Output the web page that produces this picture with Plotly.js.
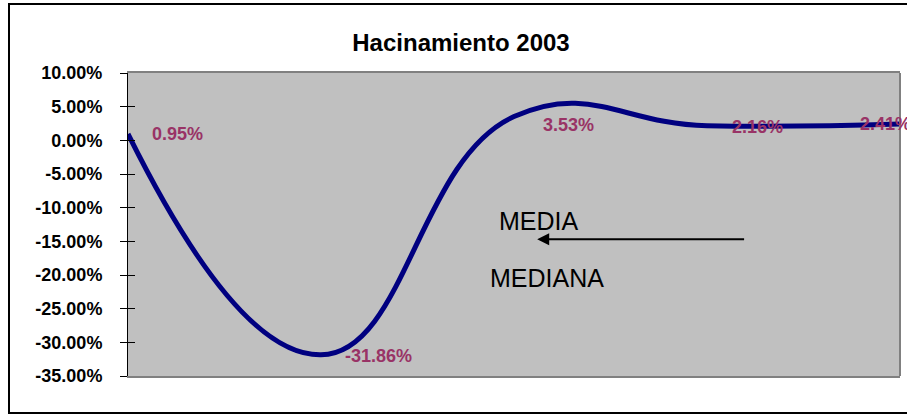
<!DOCTYPE html>
<html>
<head>
<meta charset="utf-8">
<script src="https://cdn.plot.ly/plotly-3.0.1.min.js"></script>
<style>
  html, body { margin: 0; padding: 0; background: #ffffff; overflow: hidden; }
  #wrap { position: relative; width: 907px; height: 414px; }
  #chart { position: absolute; left: 0; top: 0; width: 907px; height: 414px; }
  #frame { position: absolute; left: 8px; top: 3px; width: 920px; height: 407px;
           border: 2px solid #000; pointer-events: none; }
</style>
</head>
<body>
<div id="wrap">
  <div id="chart"></div>
  <div id="frame"></div>
</div>
<script>
// ---- data ----
const categories = [0, 1, 2, 3, 4];
const values = [0.95, -31.86, 3.53, 2.16, 2.41];          // percent
const tickVals = [10, 5, 0, -5, -10, -15, -20, -25, -30, -35];
const tickLabels = ["10.00%", "5.00%", "0.00%", "-5.00%", "-10.00%", "-15.00%",
                    "-20.00%", "-25.00%", "-30.00%", "-35.00%"];
const chartTitle = "Hacinamiento 2003";
const noteTexts = ["MEDIA", "MEDIANA"];
const noteX = [2.13, 2.17];
const noteY = [-12.0, -20.5];
const arrowFrom = [3.2, -14.7];
const arrowTo = [2.12, -14.7];

// ---- style ----
const FONT = "Arial, 'Liberation Sans', sans-serif";
const labelXShift = [22, 22, 27, 23, -42];
const labelYShift = [0, -1, -8, -1, 0];

const annotations = values.map((v, i) => ({
  x: categories[i], y: v, xref: 'x', yref: 'y',
  text: v.toFixed(2) + '%',
  showarrow: false, xanchor: 'left', yanchor: 'middle',
  xshift: labelXShift[i], yshift: labelYShift[i],
  font: { family: FONT, size: 18, color: '#993366', weight: 'bold' }
}));
noteTexts.forEach((t, i) => annotations.push({
  x: noteX[i], y: noteY[i], xref: 'x', yref: 'y', text: t, showarrow: false,
  xanchor: 'center', yanchor: 'middle',
  font: { family: FONT, size: 25, color: '#000000' }
}));
annotations.push({
  x: arrowTo[0], y: arrowTo[1], ax: arrowFrom[0], ay: arrowFrom[1],
  xref: 'x', yref: 'y', axref: 'x', ayref: 'y', text: '',
  showarrow: true, arrowhead: 2, arrowsize: 1.2, arrowwidth: 2, arrowcolor: '#000000'
});

const trace = {
  x: categories, y: values, type: 'scatter', mode: 'lines',
  line: { color: '#000080', width: 5, shape: 'spline', smoothing: 1.3 },
  hoverinfo: 'skip', cliponaxis: true
};

const layout = {
  width: 907, height: 414,
  margin: { l: 128, r: 7, t: 73, b: 38, pad: 0 },
  paper_bgcolor: '#ffffff', plot_bgcolor: '#C0C0C0',
  showlegend: false,
  title: { text: chartTitle, x: 461 / 907, xref: 'container', xanchor: 'center',
           y: 1 - 43 / 414, yref: 'container', yanchor: 'middle',
           font: { family: FONT, size: 24, color: '#000', weight: 'bold' } },
  xaxis: { range: [0, 4], showgrid: false, zeroline: false, showticklabels: false,
           ticks: '', showline: true, linecolor: '#808080', linewidth: 2, mirror: true,
           fixedrange: true },
  yaxis: { range: [-35, 10], tickvals: tickVals, ticktext: tickLabels,
           showgrid: false, zeroline: false, ticks: 'outside', ticklen: 7,
           tickcolor: '#000', tickwidth: 1, showline: true, linecolor: '#000', linewidth: 1,
           ticklabelstandoff: 14,
           tickfont: { family: FONT, size: 18, color: '#000', weight: 'bold' },
           fixedrange: true },
  yaxis2: { range: [-35, 10], overlaying: 'y', side: 'left', tickvals: tickVals,
            showticklabels: false, ticks: 'inside', ticklen: 7, tickcolor: '#000',
            showgrid: false, zeroline: false, showline: false, fixedrange: true },
  shapes: [{ type: 'line', xref: 'paper', yref: 'paper', x0: 1, x1: 1, y0: 0, y1: 1,
             line: { color: '#808080', width: 2 } }],
  annotations: annotations
};

const trace2 = { x: [0], y: [0], yaxis: 'y2', mode: 'markers', marker: { opacity: 0 },
                 hoverinfo: 'skip', showlegend: false };

Plotly.newPlot('chart', [trace, trace2], layout, { displayModeBar: false, staticPlot: true });
</script>
</body>
</html>
